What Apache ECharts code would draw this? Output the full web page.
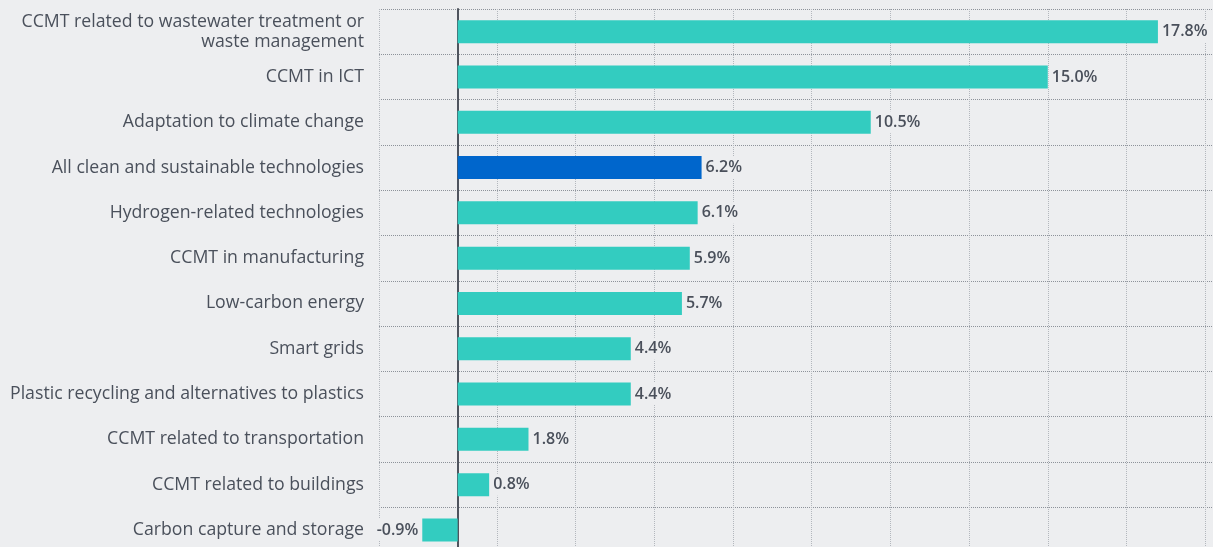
<!DOCTYPE html>
<html>
<head>
<meta charset="utf-8">
<script src="https://cdn.jsdelivr.net/npm/echarts@6/dist/echarts.min.js"></script>
<style>
  html, body { margin: 0; padding: 0; background: #edeef0; }
  #main { width: 1213px; height: 547px; }
</style>
</head>
<body>
<div id="main"></div>
<script>
var categories = [
  'CCMT related to wastewater treatment or\nwaste management',
  'CCMT in ICT',
  'Adaptation to climate change',
  'All clean and sustainable technologies',
  'Hydrogen-related technologies',
  'CCMT in manufacturing',
  'Low-carbon energy',
  'Smart grids',
  'Plastic recycling and alternatives to plastics',
  'CCMT related to transportation',
  'CCMT related to buildings',
  'Carbon capture and storage'
]
var values = [17.8, 15.0, 10.5, 6.2, 6.1, 5.9, 5.7, 4.4, 4.4, 1.8, 0.8, -0.9]
var highlighted = 'All clean and sustainable technologies'
var gridValues = [-2, 1, 3, 5, 7, 9, 11, 13, 15, 17, 19]

var textColor = '#4a505b'
var chart = echarts.init(document.getElementById('main'))

var option = {
  backgroundColor: '#edeef0',
  animation: false,
  grid: { left: 379, right: 0, top: 9, height: 543.6, containLabel: false, outerBoundsMode: 'none' },
  xAxis: {
    type: 'value',
    min: -2,
    max: 19.2,
    axisLabel: { show: false },
    axisLine: { show: false },
    axisTick: { show: false, customValues: gridValues },
    splitLine: { show: true, lineStyle: { color: '#b3b7bd', type: 'dotted', width: 1 } }
  },
  yAxis: {
    type: 'category',
    inverse: true,
    data: categories,
    axisLine: { show: true, onZero: true, lineStyle: { color: '#4f545e', width: 2 } },
    axisTick: { show: false },
    axisLabel: {
      margin: 15,
      color: textColor,
      fontFamily: 'Open Sans',
      fontSize: 17.7,
      lineHeight: 20,
      align: 'right'
    },
    splitLine: { show: true, lineStyle: { color: '#8d929a', type: 'dotted', width: 1 } }
  },
  series: [{
    type: 'bar',
    barWidth: 23,
    data: values.map(function (v, i) {
      return {
        value: v,
        itemStyle: { color: categories[i] === highlighted ? '#0066cc' : '#33ccc0' }
      }
    }),
    label: {
      show: true,
      position: 'outside',
      distance: 1,
      color: textColor,
      fontFamily: 'Open Sans',
      fontWeight: 600,
      fontSize: 16,
      backgroundColor: '#edeef0',
      padding: [3, 3],
      formatter: function (p) { return p.value.toFixed(1) + '%' }
    }
  }]
}
chart.setOption(option)
</script>
</body>
</html>
